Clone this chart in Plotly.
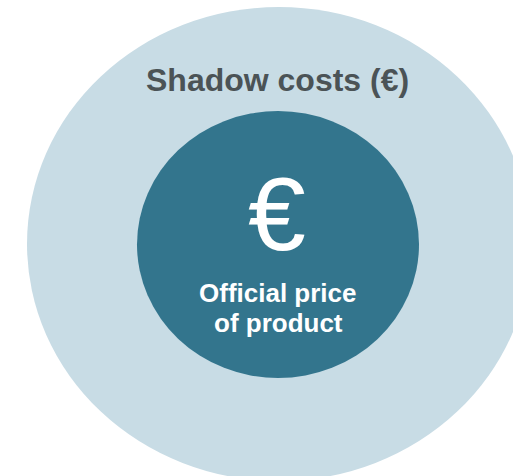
import plotly.graph_objects as go

# Diagram content
labels_outer = ["Shadow costs (€)"]
symbol_inner = ["€"]
labels_inner = ["Official price", "of product"]

OUTER_COLOR = "#c8dce5"
INNER_COLOR = "#33758d"
TITLE_COLOR = "#4b5356"

W, H = 513, 476
fig = go.Figure()

fig.add_shape(type="circle", xref="x", yref="y", x0=27, x1=531, y0=7, y1=481,
              fillcolor=OUTER_COLOR, line=dict(width=0), layer="below")
fig.add_shape(type="circle", xref="x", yref="y", x0=137, x1=419, y0=111, y1=378,
              fillcolor=INNER_COLOR, line=dict(width=0), layer="below")

FONT = "Liberation Sans, Arial"
fig.add_annotation(x=277, y=80, xref="x", yref="y", text="<b>" + labels_outer[0] + "</b>",
                   showarrow=False, font=dict(family=FONT, size=32, color=TITLE_COLOR),
                   xanchor="center", yanchor="middle")
fig.add_annotation(x=277, y=214, xref="x", yref="y", text=symbol_inner[0],
                   showarrow=False, font=dict(family=FONT, size=104, color="white"),
                   xanchor="center", yanchor="middle")
for i, lab in enumerate(labels_inner):
    fig.add_annotation(x=278, y=293 + 30 * i, xref="x", yref="y", text="<b>" + lab + "</b>",
                       showarrow=False, font=dict(family=FONT, size=26, color="white"),
                       xanchor="center", yanchor="middle")

fig.update_xaxes(range=[0, W], visible=False, fixedrange=True)
fig.update_yaxes(range=[H, 0], visible=False, fixedrange=True)
fig.update_layout(width=W, height=H, margin=dict(l=0, r=0, t=0, b=0),
                  paper_bgcolor="white", plot_bgcolor="white", showlegend=False)

fig.write_html("out.html", config={"displayModeBar": False},
               post_script="document.body.style.margin='0';document.body.style.overflow='hidden';")
